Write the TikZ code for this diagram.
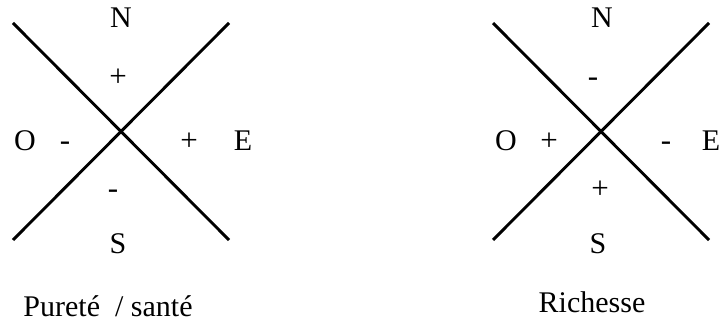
\documentclass[tikz,border=0pt]{standalone}
\usepackage{fontspec}
\setmainfont{Liberation Serif}
\usepackage{tikz}
\tikzset{
  axe/.style={line width=2.9pt},
  lab/.style={font=\fontsize{30}{34}\selectfont,anchor=base,inner sep=0pt},
  sgn/.style={font=\fontsize{31}{34}\selectfont,anchor=base,inner sep=0pt},
  legende/.style={font=\fontsize{30}{34}\selectfont,anchor=base,inner sep=0pt}
}
\begin{document}
\begin{tikzpicture}[x=1pt,y=1pt]
\useasboundingbox (0,0) rectangle (722,321);
% left cross
\coordinate (lnw) at (13,298); \coordinate (lse) at (229,81);
\coordinate (lsw) at (13,81);  \coordinate (lne) at (229,298);
\draw[axe] (lnw) -- (lse); \draw[axe] (lsw) -- (lne);
\node[lab] (lN) at (121,293) {N};
\node[lab] (lS) at (118,67) {S};
\node[lab] (lO) at (25,170) {O};
\node[lab] (lE) at (243,170) {E};
\node[sgn] (lpn) at (118,234) {+};
\node[sgn] (lpo) at (65,170) {-};
\node[sgn] (lpe) at (189,170) {+};
\node[sgn] (lps) at (113,122) {-};
\node[legende] (lleg) at (108,5) {Pureté\ \ / santé};
% right cross
\coordinate (rnw) at (493,298); \coordinate (rse) at (709,81);
\coordinate (rsw) at (493,81);  \coordinate (rne) at (709,298);
\draw[axe] (rnw) -- (rse); \draw[axe] (rsw) -- (rne);
\node[lab] (rN) at (602,293) {N};
\node[lab] (rS) at (598,67) {S};
\node[lab] (rO) at (506,170) {O};
\node[lab] (rE) at (711,170) {E};
\node[sgn] (rpn) at (593,234) {-};
\node[sgn] (rpo) at (549,170) {+};
\node[sgn] (rpe) at (666,170) {-};
\node[sgn] (rps) at (600,122) {+};
\node[legende] (rleg) at (592,9) {Richesse};
\end{tikzpicture}
\end{document}
